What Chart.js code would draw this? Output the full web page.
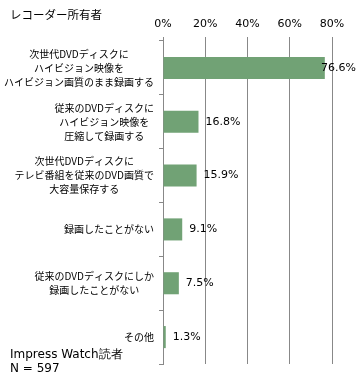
<!DOCTYPE html>
<html>
<head>
<meta charset="utf-8">
<script src="https://cdn.jsdelivr.net/npm/chart.js@4"></script>
<style>
  html, body { margin: 0; padding: 0; background: #fff; }
  #wrap { width: 359px; height: 380px; position: relative; }
</style>
</head>
<body>
<div id="wrap"><canvas id="ownerChart"></canvas></div>
<script>
// chart data
const categories = [
    ['次世代DVDディスクに', 'ハイビジョン映像を', 'ハイビジョン画質のまま録画する'],
    ['従来のDVDディスクに', 'ハイビジョン映像を', '圧縮して録画する'],
    ['次世代DVDディスクに', 'テレビ番組を従来のDVD画質で', '大容量保存する'],
    ['録画したことがない'],
    ['従来のDVDディスクにしか', '録画したことがない'],
    ['その他']
];
const shares = [76.6, 16.8, 15.9, 9.1, 7.5, 1.3];   // percent of owners
const axisTicks = [0, 20, 40, 60, 80];
const chartTitle = 'レコーダー所有者';
const sourceNote = ['Impress Watch読者', 'N = 597'];

const jpFont = '"Noto Sans CJK JP", sans-serif';
const numFont = '"DejaVu Sans", Verdana, sans-serif';

// draws the category labels (lines centered inside a right-aligned block),
// the value labels, the title and the source note
const textPlugin = {
    id: 'textPlugin',
    afterDraw(chart) {
        const ctx = chart.ctx;
        const yScale = chart.scales.y;
        const meta = chart.getDatasetMeta(0);
        ctx.save();
        ctx.fillStyle = '#000';
        ctx.textBaseline = 'middle';

        // category labels
        ctx.font = '10px ' + jpFont;
        const lineH = 14;
        const rightEdge = yScale.right - 9;
        categories.forEach((lines, i) => {
            const cy = yScale.getPixelForValue(i);
            const blockW = Math.max(...lines.map(l => ctx.measureText(l).width));
            const cx = rightEdge - blockW / 2;
            ctx.textAlign = 'center';
            lines.forEach((line, k) => {
                const y = cy + (k - (lines.length - 1) / 2) * lineH;
                ctx.fillText(line, cx, y);
            });
        });

        // value labels
        ctx.font = '11px ' + numFont;
        ctx.textAlign = 'left';
        meta.data.forEach((bar, i) => {
            const txt = shares[i].toFixed(1) + '%';
            const w = ctx.measureText(txt).width;
            let x = bar.x + 7;
            if (x + w > chart.width - 3) x = chart.width - 3 - w;
            ctx.fillText(txt, x, bar.y);
        });

        // title
        ctx.font = '11.5px ' + jpFont;
        ctx.fillText(chartTitle, 10, 15);

        // source note
        ctx.font = '12px ' + numFont;
        ctx.fillText(sourceNote[0], 10, 355);
        ctx.fillText(sourceNote[1], 10, 369);
        ctx.restore();
    }
};

const ownerChart = new Chart(document.getElementById('ownerChart'), {
    type: 'bar',
    data: {
        labels: categories.map(c => c.join('')),
        datasets: [{
            data: shares,
            backgroundColor: '#71a275',
            borderWidth: 0,
            barPercentage: 0.41,
            categoryPercentage: 1.0
        }]
    },
    options: {
        indexAxis: 'y',
        responsive: true,
        maintainAspectRatio: false,
        animation: false,
        layout: {
            padding: { left: 0, right: 27, top: 0, bottom: 16 }
        },
        plugins: {
            legend: { display: false },
            tooltip: { enabled: false }
        },
        scales: {
            x: {
                position: 'top',
                min: 0,
                max: 80,
                afterBuildTicks: scale => {
                    scale.ticks = axisTicks.map(v => ({ value: v }));
                },
                ticks: {
                    color: '#000',
                    padding: 6,
                    font: { family: numFont, size: 11 },
                    callback: v => v + '%'
                },
                grid: {
                    color: '#888',
                    lineWidth: 1,
                    tickLength: 4
                },
                border: { display: false },
                afterFit: scale => { scale.height = 41; }
            },
            y: {
                offset: true,
                ticks: { display: false },
                grid: {
                    color: '#888',
                    drawOnChartArea: false,
                    tickLength: 4,
                    offset: true
                },
                border: { display: true, color: '#888' },
                afterFit: scale => { scale.width = 163; }
            }
        }
    },
    plugins: [textPlugin]
});
</script>
</body>
</html>
